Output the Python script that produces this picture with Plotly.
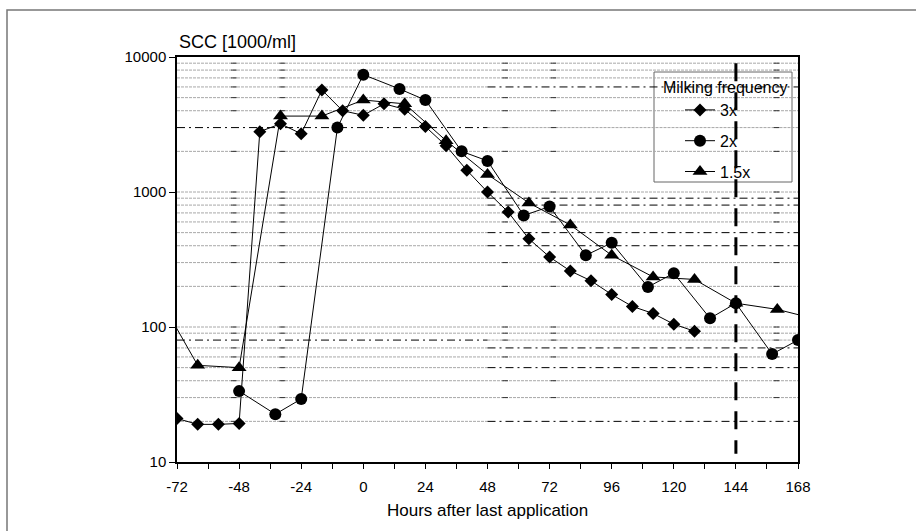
import plotly.graph_objects as go

# ---------------- data ----------------
hours_3x = [-72, -64, -56, -48, -40, -32, -24, -16, -8, 0, 8, 16, 24, 32, 40, 48,
            56, 64, 72, 80, 88, 96, 104, 112, 120, 128]
scc_3x = [21, 19, 19, 19.3, 2800, 3200, 2700, 5700, 4000, 3700, 4500, 4100, 3050,
          2200, 1450, 1000, 710, 450, 330, 260, 220, 174, 142, 126, 105, 93]

hours_2x = [-48, -34, -24, -10, 0, 14, 24, 38, 48, 62, 72, 86, 96, 110, 120, 134,
            144, 158, 168]
scc_2x = [33.5, 22.6, 29.3, 3000, 7400, 5800, 4800, 2000, 1700, 670, 780, 340, 420,
          198, 250, 116, 150, 63, 80]

hours_15x = [-80, -64, -48, -32, -16, 0, 16, 32, 48, 64, 80, 96, 112, 128, 144, 160, 176]
scc_15x = [180, 52, 50, 3650, 3650, 4800, 4500, 2400, 1350, 830, 570, 340, 235, 225,
           150, 135, 113]

series_names = ["3x", "2x", "1.5x"]
series_symbols = ["diamond", "circle", "triangle-up"]

x_tick_vals = [-72, -48, -24, 0, 24, 48, 72, 96, 120, 144, 168]
x_tick_text = ["-72", "-48", "-24", "0", "24", "48", "72", "96", "120", "144", "168"]
y_tick_vals = [10, 100, 1000, 10000]
y_tick_text = ["10", "100", "1000", "10000"]
x_range = [-72, 168]

grid_levels = [20, 30, 40, 50, 60, 70, 80, 90, 100, 200, 300, 400, 500, 600, 700,
               800, 900, 1000, 2000, 3000, 4000, 5000, 6000, 7000, 8000, 9000]
dashdot_left_levels = [3000, 80]
dashdot_right_levels = [6000, 900, 800, 500, 400, 70, 50, 20]
split_hour = 48
grid_mark_hours = [-50, -31.3, 54.8, 73.5, 159.7]
cutoff_hour = 144
cutoff_range = [11.5, 9000]

FONT = "Liberation Sans, Arial, sans-serif"

fig = go.Figure()

# short dark marks on the dotted grid lines
mark_x, mark_y = [], []
for lv in grid_levels:
    if lv in dashdot_left_levels:
        lo, hi = split_hour, x_range[1]
    elif lv in dashdot_right_levels:
        lo, hi = x_range[0], split_hour
    else:
        lo, hi = x_range
    for h in grid_mark_hours:
        if lo <= h <= hi:
            mark_x.append(h)
            mark_y.append(lv)
fig.add_trace(go.Scatter(
    x=mark_x, y=mark_y, mode="markers", showlegend=False, hoverinfo="skip",
    marker=dict(symbol="line-ew", size=4, line=dict(width=1, color="#333333"))))

for i, (xs, ys) in enumerate([(hours_3x, scc_3x), (hours_2x, scc_2x), (hours_15x, scc_15x)]):
    fig.add_trace(go.Scatter(
        x=xs, y=ys, mode="lines+markers", name=series_names[i],
        legendgroup=series_names[i],
        line=dict(color="black", width=1),
        marker=dict(symbol=series_symbols[i], color="black",
                    size=[10, 12, 13][i], line=dict(width=0)),
    ))

shapes = []
# dotted grey grid lines
for lv in grid_levels:
    if lv in dashdot_left_levels:
        segs = [(split_hour, x_range[1])]
    elif lv in dashdot_right_levels:
        segs = [(x_range[0], split_hour)]
    else:
        segs = [tuple(x_range)]
    for a, b in segs:
        shapes.append(dict(type="line", xref="x", yref="y", x0=a, x1=b, y0=lv, y1=lv,
                           layer="below", line=dict(color="#a8a8a8", width=1, dash="3px,1px")))
# dash-dot black lines
for lv in dashdot_left_levels:
    shapes.append(dict(type="line", xref="x", yref="y", x0=x_range[0], x1=split_hour,
                       y0=lv, y1=lv, layer="below",
                       line=dict(color="black", width=1, dash="8px,4px,2px,4px")))
for lv in dashdot_right_levels:
    shapes.append(dict(type="line", xref="x", yref="y", x0=split_hour, x1=x_range[1],
                       y0=lv, y1=lv, layer="below",
                       line=dict(color="black", width=1, dash="8px,4px,2px,4px")))
# vertical dashed marker at 144 h
shapes.append(dict(type="line", xref="x", yref="y", x0=cutoff_hour, x1=cutoff_hour,
                   y0=cutoff_range[1], y1=cutoff_range[0], layer="below",
                   line=dict(color="black", width=3, dash="18px,11px")))
# legend frame
shapes.append(dict(type="rect", xref="paper", yref="paper",
                   x0=(654 - 177) / 621, x1=(792 - 177) / 621,
                   y0=(462 - 182) / 405, y1=(462 - 72) / 405,
                   layer="below", fillcolor="white",
                   line=dict(color="#666666", width=1)))
# outer frame
shapes.append(dict(type="rect", xref="paper", yref="paper",
                   x0=(7 - 177) / 621, x1=(940 - 177) / 621,
                   y0=(462 - 560) / 405, y1=(462 - 10) / 405,
                   layer="below", fillcolor="rgba(0,0,0,0)",
                   line=dict(color="#777777", width=1.5)))

annotations = [
    dict(text="SCC [1000/ml]", xref="paper", yref="paper", x=0, y=1, yshift=3,
         xanchor="left", yanchor="bottom", showarrow=False,
         font=dict(family=FONT, size=18, color="black")),
    dict(text="Hours after last application", xref="paper", yref="paper",
         x=0.5, y=(462 - 511) / 405, xanchor="center", yanchor="middle",
         showarrow=False, font=dict(family=FONT, size=17, color="black")),
    dict(text="Milking frequency", xref="paper", yref="paper",
         x=(661 - 177) / 621, y=(462 - 87) / 405, xanchor="left", yanchor="middle",
         showarrow=False, font=dict(family=FONT, size=16, color="black")),
]

fig.update_layout(
    width=916, height=531,
    margin=dict(l=177, r=118, t=57, b=69),
    paper_bgcolor="white", plot_bgcolor="white",
    font=dict(family=FONT, size=15, color="black"),
    shapes=shapes, annotations=annotations,
    showlegend=True,
    legend=dict(x=(680 - 177) / 621, y=(462 - 93) / 405, xanchor="left", yanchor="top",
                bgcolor="rgba(0,0,0,0)", borderwidth=0, traceorder="grouped",
                tracegroupgap=7, font=dict(family=FONT, size=16, color="black")),
    xaxis=dict(range=x_range, tickvals=x_tick_vals, ticktext=x_tick_text,
               ticks="outside", ticklen=5, ticklabelstandoff=5,
               tickcolor="black", showgrid=False, zeroline=False, showline=True,
               linecolor="black", linewidth=1.5, mirror=True,
               minor=dict(dtick=12, tick0=-72, ticks="outside", ticklen=5,
                          tickcolor="black", showgrid=False),
               tickfont=dict(family=FONT, size=15)),
    yaxis=dict(type="log", range=[1, 4], tickvals=y_tick_vals,
               ticktext=y_tick_text, ticks="outside", ticklen=6,
               tickcolor="black", showgrid=False, zeroline=False, showline=True,
               linecolor="black", linewidth=1.5, mirror=True,
               tickfont=dict(family=FONT, size=15)),
)

fig.write_html("out.html")
